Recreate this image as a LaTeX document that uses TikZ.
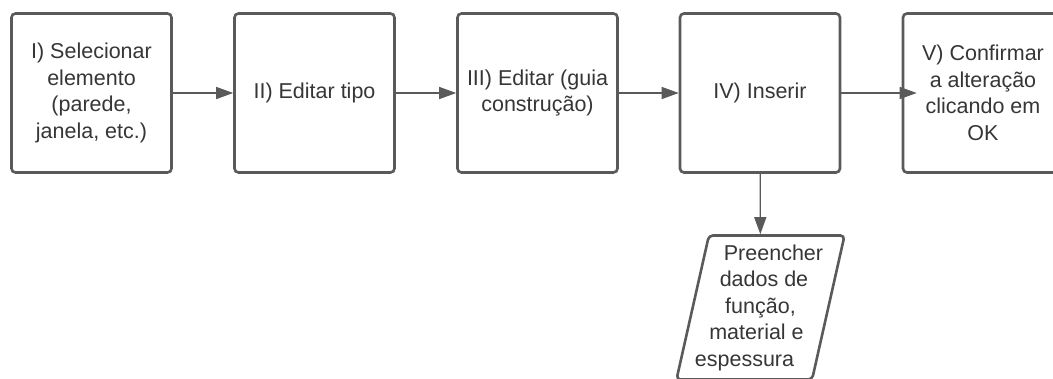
\documentclass[tikz,border=0pt]{standalone}
\usepackage{fontspec}
\setmainfont{Liberation Sans}
\usetikzlibrary{arrows.meta, positioning, shapes.geometric}
\definecolor{cline}{HTML}{5A5A5A}
\definecolor{ctext}{HTML}{363636}
\tikzset{
  every picture/.style={line width=1.3pt},
  box/.style={draw=cline, line width=2.6pt, fill=white, rounded corners=4pt, align=center, text=ctext, minimum width=160pt, minimum height=159pt, inner sep=4pt},
  arrow/.style={-{Triangle[length=17pt, width=12pt]}, draw=cline, line width=1.3pt},
}
\newcommand{\shl}[2]{\hspace*{#1}#2\hspace*{-#1}}

\begin{document}
\begin{tikzpicture}[
    x=1pt, y=-1pt,
    every node/.append style={font=\fontsize{21.5}{26.5}\selectfont},
    inbox/.style={box, shape=trapezium, trapezium left angle=76, trapezium right angle=104,
      trapezium stretches body, minimum width=159pt, minimum height=144pt, inner sep=2pt},
  ]
  \useasboundingbox (0,0) rectangle (1053,378);

  % the steps
  \node[box] (sel)  at (91.5,93)  {I) Selecionar\\elemento\\(parede,\\janela, etc.)};
  \node[box] (tipo) at (314.5,93) {II) Editar tipo};
  \node[box] (guia) at (537.5,93) {III) Editar (guia\\construção)};
  \node[box] (ins)  at (760,93)   {IV) Inserir};
  \node[box] (ok)   at (983,93)   {V) Confirmar\\a alteração\\clicando em\\OK};
  \node[inbox] (dados) at (760.5,307.5) {\shl{13pt}{Preencher}\\\shl{7pt}{dados de}\\função,\\\shl{-8pt}{material e}\\\shl{-16pt}{espessura}};

  \draw[arrow] (sel) -- (tipo);
  \draw[arrow] (tipo) -- (guia);
  \draw[arrow] (guia) -- (ins);
  \draw[arrow] (ins) -- ([xshift=15pt]ok.west);
  \draw[arrow] (ins) -- (dados);
\end{tikzpicture}
\end{document}
